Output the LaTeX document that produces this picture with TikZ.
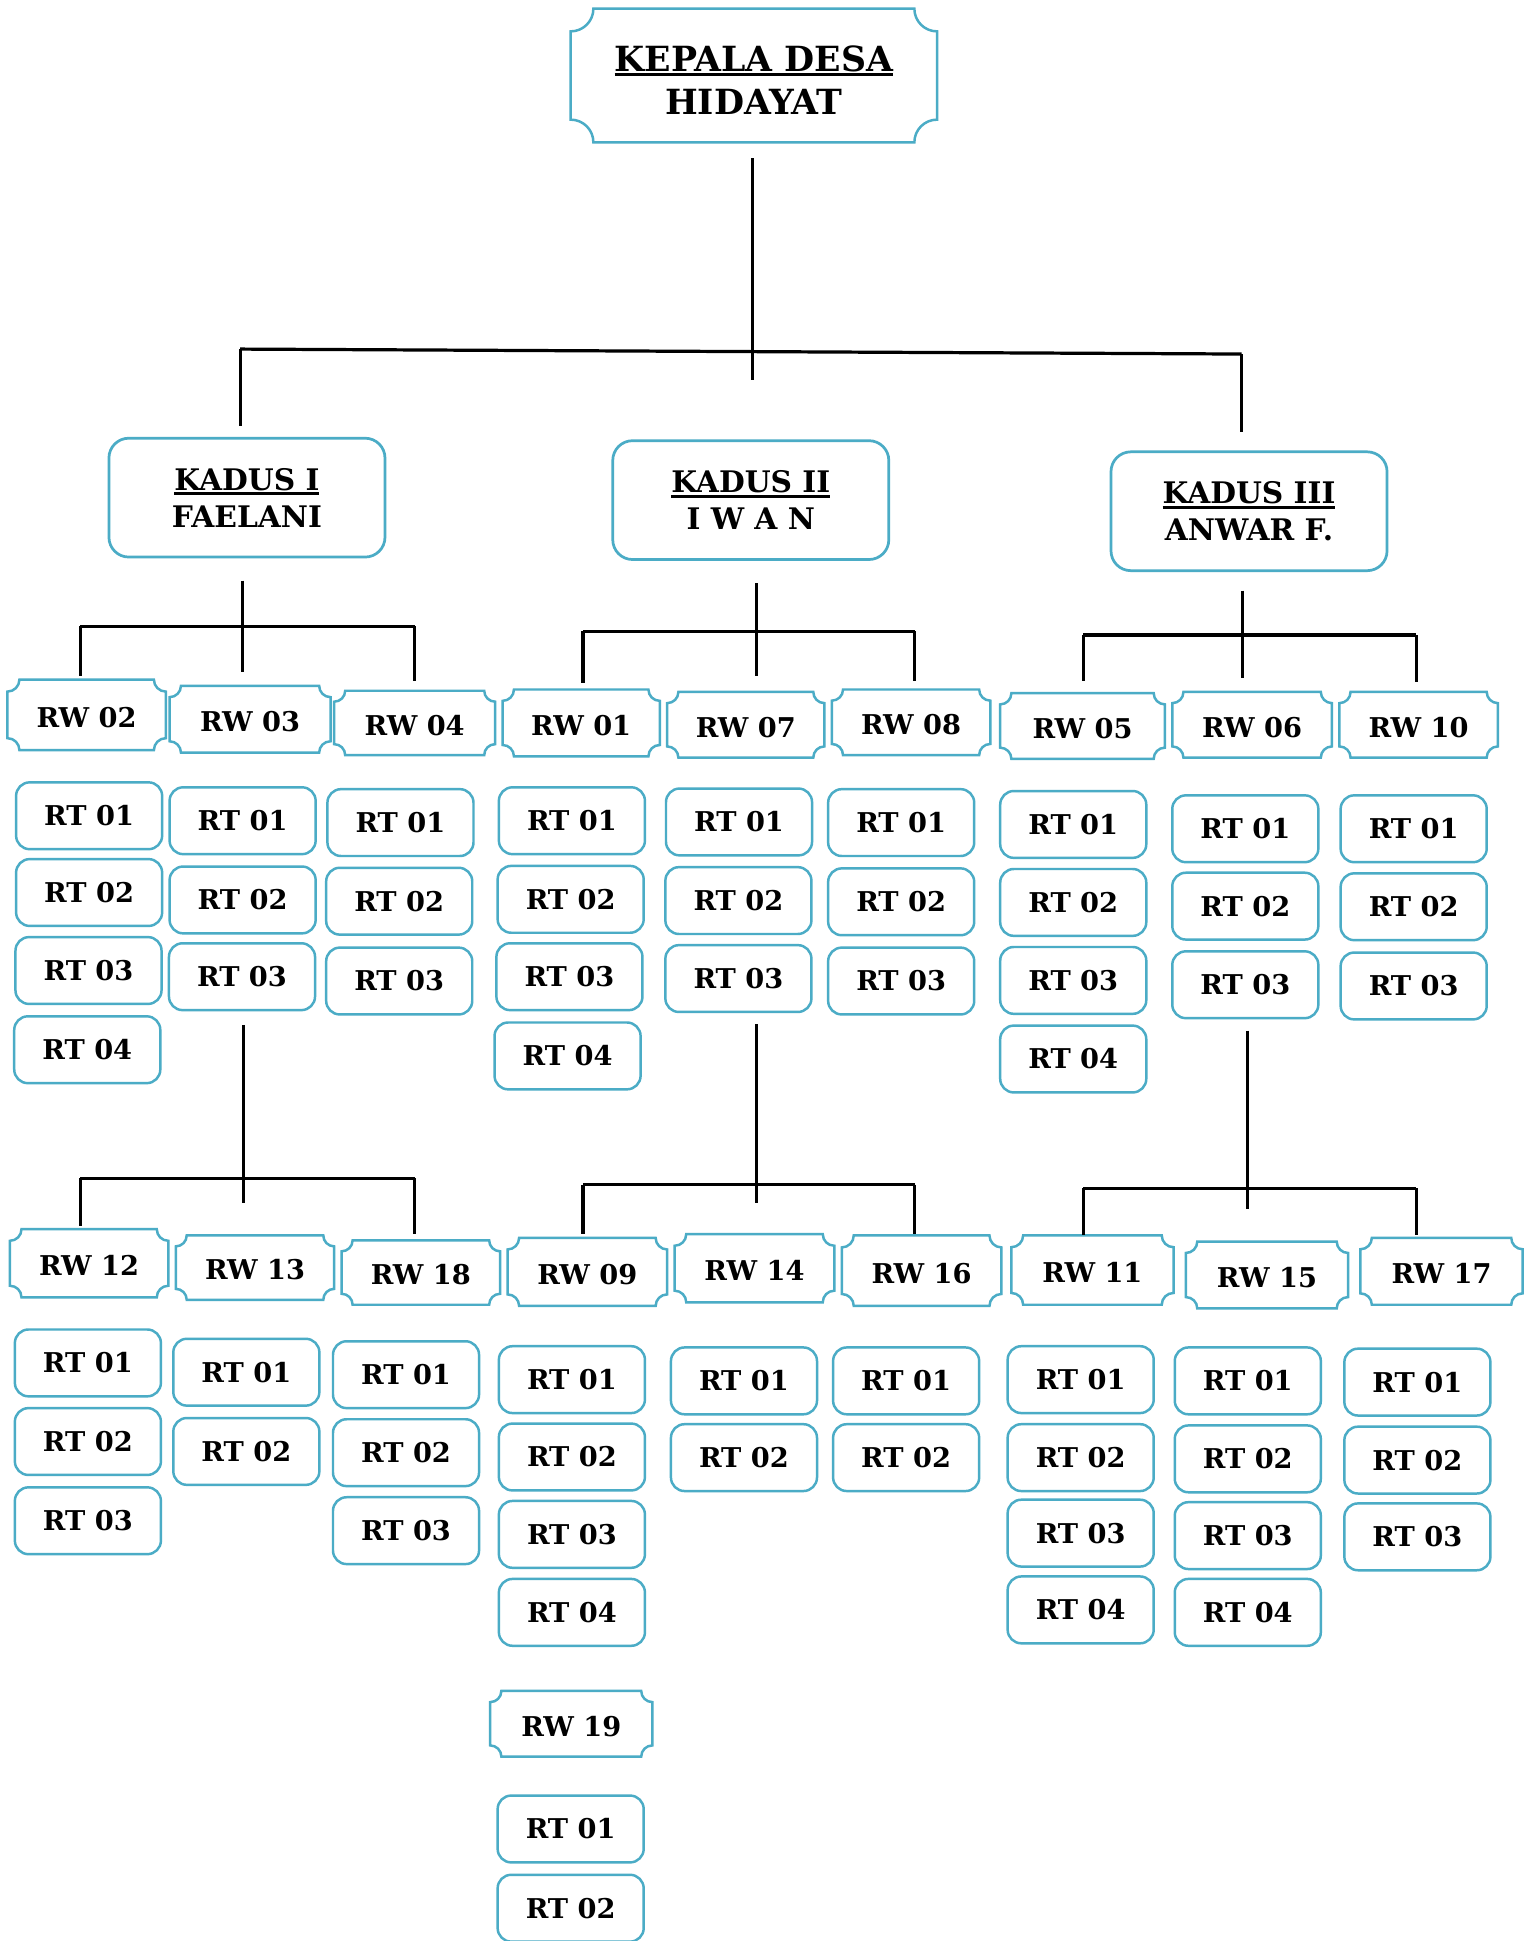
\documentclass[tikz,border=0pt]{standalone}
\usepackage{fontspec}
\setmainfont{DejaVu Serif}
\definecolor{bl}{HTML}{4BACC6}
\newcommand{\ulx}[1]{\setbox0\hbox{#1}\rlap{\rule[-4.2pt]{\wd0}{2.4pt}}\box0}
\newcommand{\plaque}[7][rwt]{%
  \pgfmathsetmacro{\plqr}{0.17*(#6-#4)}%
  \pgfmathsetmacro{\plqk}{0.5523*\plqr}%
  \pgfmathsetmacro{\plqw}{#5-#3}%
  \pgfmathsetmacro{\plqh}{#6-#4}%
  \draw[plq] ({#3+\plqr},#4) -- ({#5-\plqr},#4)
    .. controls ({#5-\plqr},{#4+\plqk}) and ({#5-\plqk},{#4+\plqr}) .. (#5,{#4+\plqr})
    -- (#5,{#6-\plqr})
    .. controls ({#5-\plqk},{#6-\plqr}) and ({#5-\plqr},{#6-\plqk}) .. ({#5-\plqr},#6)
    -- ({#3+\plqr},#6)
    .. controls ({#3+\plqr},{#6-\plqk}) and ({#3+\plqk},{#6-\plqr}) .. (#3,{#6-\plqr})
    -- (#3,{#4+\plqr})
    .. controls ({#3+\plqk},{#4+\plqr}) and ({#3+\plqr},{#4+\plqk}) .. cycle;
  \node[#1, minimum width=\plqw pt, minimum height=\plqh pt] (#2) at ({(#3+#5)/2},{(#4+#6)/2}) {#7};
}
\tikzset{
  plq/.style={draw=bl, line width=2pt},
  rwt/.style={inner sep=0pt, yshift=-2pt, font=\fontsize{22}{26}\selectfont\bfseries},
  topt/.style={inner sep=0pt, yshift=-3.5pt, align=center, font=\fontsize{28}{35}\selectfont\bfseries},
  rt/.style={draw=bl, line width=2pt, rounded corners=11pt, minimum width=118pt, minimum height=54pt, inner sep=0pt, font=\fontsize{22}{26}\selectfont\bfseries},
  kad/.style={draw=bl, line width=2.2pt, rounded corners=16pt, minimum width=223pt, minimum height=96pt, inner sep=0pt, align=center, font=\fontsize{24}{30}\selectfont\bfseries},
  conn/.style={draw=black, line width=2.6pt}
}
\begin{document}
\begin{tikzpicture}[x=1pt, y=-1pt]
\useasboundingbox[fill=white] (0,0) rectangle (1240,1568);

% top
\plaque[topt]{kd}{461}{7}{757}{115}{\ulx{KEPALA DESA}\\HIDAYAT}

% kadus
\node[kad] (k1) at (199.5,402) {\ulx{KADUS I}\\FAELANI};
\node[kad] (k2) at (606.5,404) {\ulx{KADUS II}\\I W A N};
\node[kad] (k3) at (1009,413) {\ulx{KADUS III}\\ANWAR F.};

% RW row 1
\plaque{rw02}{6}{549}{134}{606}{RW 02}
\plaque{rw03}{137}{554}{267}{608}{RW 03}
\plaque{rw04}{270}{558}{400}{610}{RW 04}
\plaque{rw01}{406}{557}{533}{611}{RW 01}
\plaque{rw07}{539}{559}{666}{612}{RW 07}
\plaque{rw08}{672}{557}{800}{610}{RW 08}
\plaque{rw05}{808}{560}{941}{613}{RW 05}
\plaque{rw06}{947}{559}{1076}{612}{RW 06}
\plaque{rw10}{1082}{559}{1210}{612}{RW 10}

% RT under row 1
\node[rt] (a02a) at (72,659) {RT 01};
\node[rt] (a02b) at (72,721) {RT 02};
\node[rt] (a02c) at (71.5,784) {RT 03};
\node[rt] (a02d) at (70.5,848) {RT 04};
\node[rt] (a03a) at (196,663) {RT 01};
\node[rt] (a03b) at (196,727) {RT 02};
\node[rt] (a03c) at (195.5,789) {RT 03};
\node[rt] (a04a) at (323.5,664.5) {RT 01};
\node[rt] (a04b) at (322.5,728) {RT 02};
\node[rt] (a04c) at (322.5,792.5) {RT 03};
\node[rt] (a01a) at (462,663) {RT 01};
\node[rt] (a01b) at (461,726.5) {RT 02};
\node[rt] (a01c) at (460,789) {RT 03};
\node[rt] (a01d) at (458.5,853) {RT 04};
\node[rt] (a07a) at (597,664) {RT 01};
\node[rt] (a07b) at (596.5,727.5) {RT 02};
\node[rt] (a07c) at (596.5,790.5) {RT 03};
\node[rt] (a08a) at (728,664.5) {RT 01};
\node[rt] (a08b) at (728,728.5) {RT 02};
\node[rt] (a08c) at (728,792.5) {RT 03};
\node[rt] (a05a) at (867,666) {RT 01};
\node[rt] (a05b) at (867,729) {RT 02};
\node[rt] (a05c) at (867,792) {RT 03};
\node[rt] (a05d) at (867,855.5) {RT 04};
\node[rt] (a06a) at (1006,669.5) {RT 01};
\node[rt] (a06b) at (1006,732) {RT 02};
\node[rt] (a06c) at (1006,795.5) {RT 03};
\node[rt] (a10a) at (1142,669.5) {RT 01};
\node[rt] (a10b) at (1142,732.5) {RT 02};
\node[rt] (a10c) at (1142,796.5) {RT 03};

% RW row 2
\plaque{rw12}{8}{993}{136}{1048}{RW 12}
\plaque{rw13}{142}{998}{270}{1050}{RW 13}
\plaque{rw18}{276}{1002}{404}{1054}{RW 18}
\plaque{rw09}{410}{1000}{539}{1055}{RW 09}
\plaque{rw14}{545}{997}{674}{1052}{RW 14}
\plaque{rw16}{680}{998}{809}{1055}{RW 16}
\plaque{rw11}{817}{998}{948}{1054}{RW 11}
\plaque{rw15}{958}{1003}{1089}{1057}{RW 15}
\plaque{rw17}{1099}{1000}{1230}{1054}{RW 17}
\plaque{rw19}{396}{1366}{527}{1419}{RW 19}

% RT under row 2
\node[rt] (b12a) at (71,1101) {RT 01};
\node[rt] (b12b) at (71,1164.5) {RT 02};
\node[rt] (b12c) at (71,1228.5) {RT 03};
\node[rt] (b13a) at (199,1108.5) {RT 01};
\node[rt] (b13b) at (199,1172.5) {RT 02};
\node[rt] (b18a) at (328,1110.5) {RT 01};
\node[rt] (b18b) at (328,1173.5) {RT 02};
\node[rt] (b18c) at (328,1236.5) {RT 03};
\node[rt] (b09a) at (462,1114.5) {RT 01};
\node[rt] (b09b) at (462,1177) {RT 02};
\node[rt] (b09c) at (462,1239.5) {RT 03};
\node[rt] (b09d) at (462,1302.5) {RT 04};
\node[rt] (b14a) at (601,1115.5) {RT 01};
\node[rt] (b14b) at (601,1177.5) {RT 02};
\node[rt] (b16a) at (732,1115.5) {RT 01};
\node[rt] (b16b) at (732,1177.5) {RT 02};
\node[rt] (b11a) at (873,1114.5) {RT 01};
\node[rt] (b11b) at (873,1177.5) {RT 02};
\node[rt] (b11c) at (873,1238.5) {RT 03};
\node[rt] (b11d) at (873,1300.5) {RT 04};
\node[rt] (b15a) at (1008,1115.5) {RT 01};
\node[rt] (b15b) at (1008,1178.5) {RT 02};
\node[rt] (b15c) at (1008,1240.5) {RT 03};
\node[rt] (b15d) at (1008,1302.5) {RT 04};
\node[rt] (b17a) at (1145,1116.5) {RT 01};
\node[rt] (b17b) at (1145,1179.5) {RT 02};
\node[rt] (b17c) at (1145,1241.5) {RT 03};
\node[rt] (b19a) at (461,1477.5) {RT 01};
\node[rt] (b19b) at (461,1541.5) {RT 02};

% connectors: top level
\coordinate (t0) at (608,115);
\coordinate (b0L) at (194,282);
\coordinate (b0R) at (1003,286);
\draw[conn] ([yshift=-13pt]t0) -- ([yshift=-192pt]t0);
\draw[conn] (b0L) -- (b0R);
\draw[conn, shorten >=9pt] (b0L) -- (b0L |- k1.north);
\draw[conn, shorten >=15pt] (b0R) -- (b0R |- k3.north);

% kadus I
\coordinate (b1M) at (196,506);
\coordinate (b1L) at (65,506);
\coordinate (b1R) at (335,506);
\draw[conn, shorten <=18pt] (b1M |- k1.south) -- ([yshift=-37pt]b1M);
\draw[conn] (b1L) -- (b1R);
\draw[conn] (b1L) -- ++(0,40);
\draw[conn] (b1R) -- ++(0,44);

% kadus II
\coordinate (b2M) at (611,510);
\coordinate (b2L) at (471,510);
\coordinate (b2R) at (739,510);
\draw[conn, shorten <=18pt] (b2M |- k2.south) -- ([yshift=-36pt]b2M);
\draw[conn] (b2L) -- (b2R);
\draw[conn] (b2L) -- ++(0,42);
\draw[conn] (b2R) -- ++(0,40);

% kadus III
\coordinate (b3M) at (1004,513);
\coordinate (b3L) at (875,513);
\coordinate (b3R) at (1144,513);
\draw[conn, shorten <=15pt] (b3M |- k3.south) -- ([yshift=-35pt]b3M);
\draw[conn] (b3L) -- (b3R);
\draw[conn] (b3L) -- ++(0,37);
\draw[conn] (b3R) -- ++(0,38);

% second level left
\coordinate (c1M) at (197,952);
\coordinate (c1L) at (65,952);
\coordinate (c1R) at (335,952);
\draw[conn, shorten <=11pt] (c1M |- a03c.south) -- ([yshift=-20pt]c1M);
\draw[conn] (c1L) -- (c1R);
\draw[conn] (c1L) -- ++(0,38);
\draw[conn] (c1R) -- ++(0,45);

% second level middle
\coordinate (c2M) at (611,957);
\coordinate (c2L) at (471,957);
\coordinate (c2R) at (739,957);
\draw[conn, shorten <=9pt] (c2M |- a07c.south) -- ([yshift=-15pt]c2M);
\draw[conn] (c2L) -- (c2R);
\draw[conn] (c2L) -- ++(0,40);
\draw[conn] (c2R) -- ++(0,40);

% second level right
\coordinate (c3M) at (1008,960);
\coordinate (c3L) at (875,960);
\coordinate (c3R) at (1144,960);
\draw[conn, shorten <=9pt] (c3M |- a06c.south) -- ([yshift=-17pt]c3M);
\draw[conn] (c3L) -- (c3R);
\draw[conn] (c3L) -- ++(0,38);
\draw[conn] (c3R) -- ++(0,38);
\end{tikzpicture}
\end{document}
